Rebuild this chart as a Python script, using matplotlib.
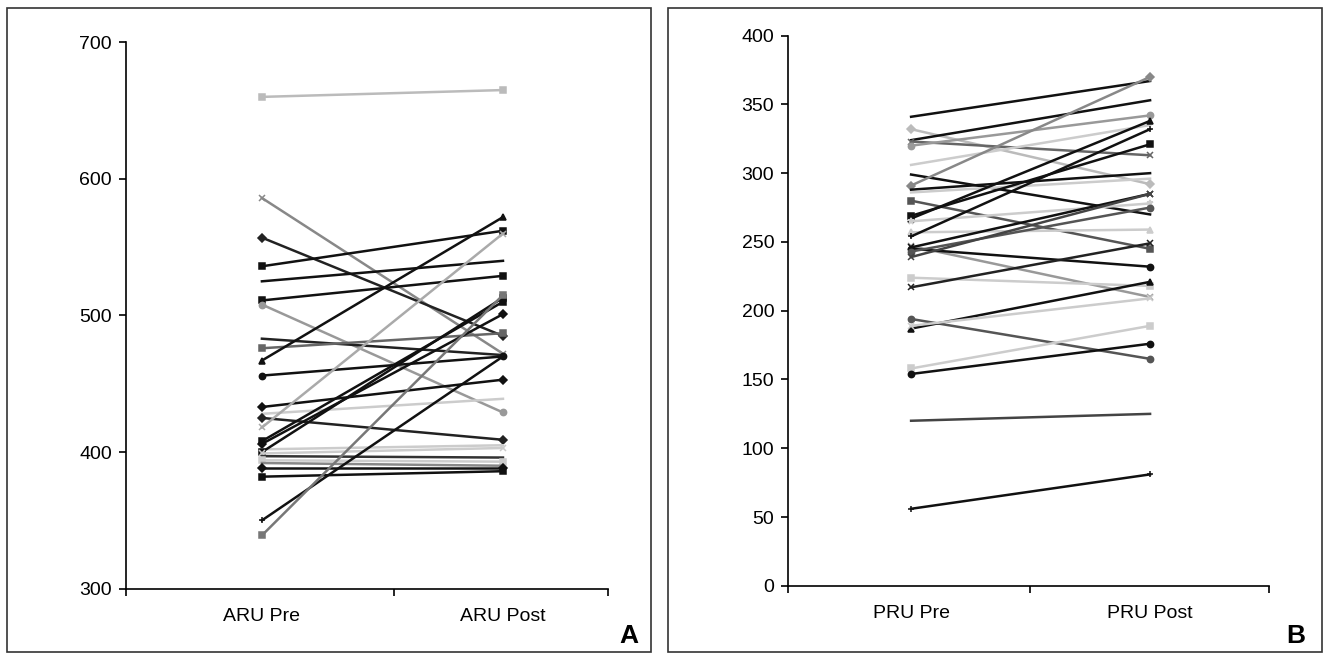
import matplotlib
matplotlib.use("Agg")
import matplotlib.pyplot as plt
from matplotlib.patches import Rectangle

plt.rcParams['font.family'] = ['Liberation Sans', 'DejaVu Sans']

# panel A (ARU)
aru_pre = [660, 586, 557, 536, 525, 511, 508, 483, 476, 467, 456, 433, 428, 425, 418,
           408, 406, 402, 400, 399, 397, 394, 392, 388, 382, 350, 339]
aru_post = [665, 472, 485, 562, 540, 529, 429, 471, 487, 572, 470, 453, 439, 409, 560,
            510, 501, 405, 513, 403, 396, 393, 390, 388, 386, 470, 515]
aru_col = ['#bbb', '#888', '#222', '#111', '#111', '#111', '#999', '#222', '#666', '#111',
           '#111', '#111', '#ccc', '#222', '#aaa', '#111', '#111', '#ccc', '#111', '#ccc',
           '#333', '#ccc', '#888', '#111', '#111', '#111', '#777']
aru_mk = ['s', 'x', 'D', 's', '', 's', 'o', '', 's', '^', 'o', 'D', '', 'D', 'x',
          's', 'D', '', 's', 'x', '', 's', '', 'D', 's', '+', 's']

# panel B (PRU)
pru_pre = [341, 332, 324, 323, 320, 306, 299, 291, 288, 286, 280, 269, 267, 265, 257,
           254, 247, 246, 245, 243, 239, 224, 217, 194, 187, 189, 158, 154, 120, 56]
pru_post = [367, 292, 353, 313, 342, 335, 270, 370, 300, 296, 245, 321, 338, 278, 259,
            332, 210, 285, 232, 275, 285, 218, 249, 165, 221, 209, 189, 176, 125, 81]
pru_col = ['#111', '#bbb', '#111', '#666', '#999', '#ccc', '#111', '#888', '#111', '#ccc',
           '#555', '#111', '#111', '#ccc', '#ccc', '#111', '#999', '#111', '#111', '#555',
           '#444', '#ccc', '#222', '#555', '#111', '#ccc', '#ccc', '#111', '#444', '#111']
pru_mk = ['', 'D', '', 'x', 'o', '', '', 'D', '', '', 's', 's', '^', '*', '^',
          '+', 'x', 'x', 'o', 'o', 'x', 's', 'x', 'o', '^', 'x', 's', 'o', '', '+']

fig = plt.figure(figsize=(13.3, 6.56), dpi=100)

def panel(ax, pre, post, cols, mks, labels, ylim, yticks, xlim, midtick):
    for a, b, c, m in zip(pre, post, cols, mks):
        ax.plot([0, 1], [a, b], color=c, lw=1.8, marker=m if m else None,
                ms=4.5, mew=1.1, mfc=c, mec=c)
    ax.set_xlim(*xlim)
    ax.set_ylim(*ylim)
    ax.set_yticks(yticks)
    ax.set_xticks([xlim[0], midtick, xlim[1]])
    ax.set_xticklabels([])
    for x, lab in zip([0, 1], labels):
        ax.text(x, -0.035, lab, transform=ax.get_xaxis_transform(),
                ha='center', va='top', fontsize=14)
    for s in ['top', 'right']:
        ax.spines[s].set_visible(False)
    for s in ['left', 'bottom']:
        ax.spines[s].set_linewidth(1.2)
    ax.tick_params(axis='y', labelsize=14, length=5, width=1.2, pad=5)
    ax.tick_params(axis='x', length=5, width=1.2)

ax1 = fig.add_axes([0.0947, 0.1026, 0.3625, 0.833])
panel(ax1, aru_pre, aru_post, aru_col, aru_mk, ['ARU Pre', 'ARU Post'],
      (300, 700), [300, 400, 500, 600, 700], (-0.564, 1.436), 0.548)

ax2 = fig.add_axes([0.5925, 0.107, 0.3617, 0.8387])
panel(ax2, pru_pre, pru_post, pru_col, pru_mk, ['PRU Pre', 'PRU Post'],
      (0, 400), list(range(0, 401, 50)), (-0.515, 1.498), 0.498)

W, H = 1330, 656
for x0, x1 in [(7, 651), (668, 1322)]:
    fig.add_artist(Rectangle((x0 / W, 1 - 652 / H), (x1 - x0) / W, 644 / H,
                             transform=fig.transFigure, fill=False,
                             edgecolor='#333', lw=1.2))

fig.text(629 / W, 1 - 648 / H, 'A', fontsize=19, fontweight='bold', ha='center', va='bottom')
fig.text(1296 / W, 1 - 648 / H, 'B', fontsize=19, fontweight='bold', ha='center', va='bottom')

fig.savefig('out.png', dpi=100)
